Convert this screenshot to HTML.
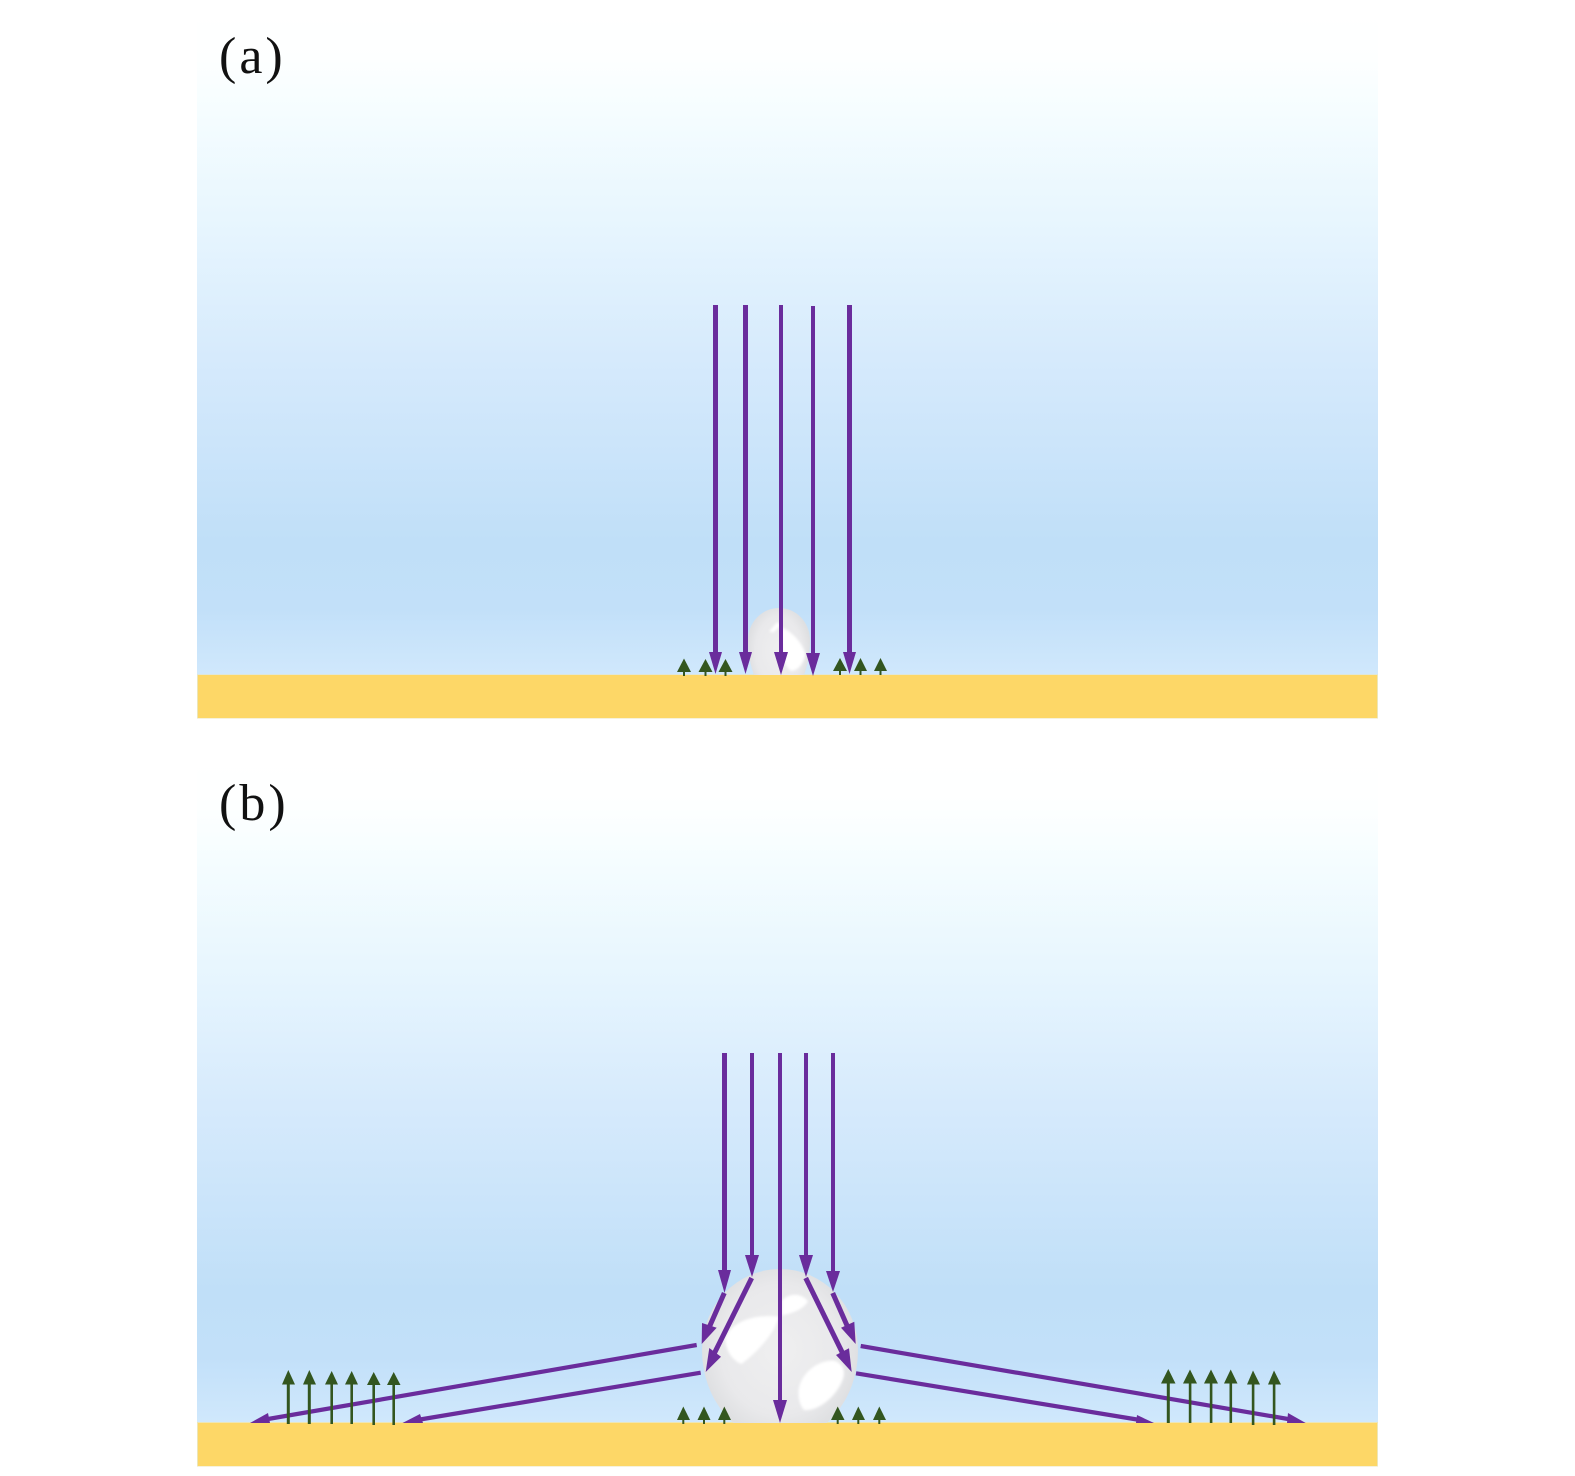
<!DOCTYPE html>
<html><head><meta charset="utf-8"><style>html,body{margin:0;padding:0;background:#fff}svg{display:block}</style></head><body>
<svg width="1575" height="1476" viewBox="0 0 1575 1476" xmlns="http://www.w3.org/2000/svg">
<defs>
<linearGradient id="sky" x1="0" y1="0" x2="0" y2="1">
<stop offset="0" stop-color="#ffffff"/><stop offset="0.07" stop-color="#fdffff"/><stop offset="0.15" stop-color="#f5fdff"/><stop offset="0.33" stop-color="#e6f5fe"/><stop offset="0.52" stop-color="#d6eafc"/><stop offset="0.8" stop-color="#c0dff8"/><stop offset="0.9" stop-color="#c2e0f9"/><stop offset="1" stop-color="#d0e8fc"/>
</linearGradient>
<radialGradient id="ball" cx="0.5" cy="0.47" r="0.54">
<stop offset="0" stop-color="#efeff0"/><stop offset="0.7" stop-color="#e9e9eb"/><stop offset="0.93" stop-color="#dfe0e2"/><stop offset="1" stop-color="#dcdfe3"/>
</radialGradient>
<filter id="soft" x="-30%" y="-30%" width="160%" height="160%"><feGaussianBlur stdDeviation="4"/></filter>
<clipPath id="ca"><rect x="197" y="500" width="1181" height="175"/></clipPath>
<clipPath id="cb"><rect x="197" y="1200" width="1181" height="223"/></clipPath>
</defs>
<rect x="197" y="14" width="1181" height="661" fill="url(#sky)"/>
<rect x="197" y="762" width="1181" height="661" fill="url(#sky)"/>
<rect x="197" y="674.5" width="1181" height="44" fill="#ece6b8"/>
<rect x="198" y="675" width="1179" height="43" fill="#fdd767"/>
<rect x="197" y="1422" width="1181" height="44.5" fill="#ece6b8"/>
<rect x="198" y="1423" width="1179" height="43" fill="#fdd767"/>

<g clip-path="url(#ca)">
<path d="M748 640 A31 32 0 0 1 810 640 A31 59 0 0 1 748 640Z" fill="url(#ball)"/>
<g transform="translate(660,590) scale(0.3333)" fill="#fff" filter="url(#soft)">
<path d="M365 112 C390 122 422 150 436 190 C432 220 412 245 392 242 C372 228 364 195 365 112Z"/>
<path d="M328 124 L352 96 L362 106 L340 128Z"/>
</g>
</g>
<g clip-path="url(#cb)">
<path d="M702 1350 A78 81 0 0 1 858 1350 A78 91 0 0 1 702 1350Z" fill="url(#ball)"/>
<g transform="translate(670,1240) scale(0.3333)" fill="#fff" filter="url(#soft)">
<path d="M166 295 C183 246 250 222 326 230 C318 272 272 328 215 372 C188 362 166 332 166 295Z"/>
<path d="M336 182 C355 160 392 156 414 184 C398 210 365 220 336 226Z"/>
<path d="M386 450 C392 402 440 360 492 362 C524 372 528 402 514 428 C494 474 442 514 403 510 C390 498 384 475 386 450Z"/>
</g>
</g>

<g fill="#6a2c9c" stroke="none">
<rect x="713" y="305" width="5" height="348"/><path d="M709 652 H722 L715.5 674Z"/>
<rect x="743" y="305" width="5" height="348"/><path d="M739 652 H752 L745.5 674Z"/>
<rect x="779" y="305" width="4" height="349"/><path d="M774 652 H788 L781 675Z"/>
<rect x="811" y="306" width="4" height="349"/><path d="M806 653 H820 L813 676Z"/>
<rect x="847" y="305" width="5" height="348"/><path d="M843 652 H856 L849.5 674Z"/>
<rect x="722" y="1053" width="5" height="218"/><path d="M718 1270 H731 L724.5 1293Z"/>
<rect x="750" y="1053" width="4" height="203"/><path d="M745 1255 H759 L752 1277Z"/>
<rect x="778" y="1053" width="4" height="348"/><path d="M773 1400 H787 L780 1423Z"/>
<rect x="804" y="1053" width="4" height="203"/><path d="M799 1255 H813 L806 1277Z"/>
<rect x="831" y="1053" width="4" height="218"/><path d="M826 1271 H840 L833 1292Z"/>
</g>
<g stroke="#6a2c9c" fill="none">
<path d="M724.3 1293 L708 1330" stroke-width="5"/>
<path d="M751.7 1278 L713 1356" stroke-width="5"/>
<path d="M805.7 1278 L844 1356" stroke-width="5"/>
<path d="M832.7 1293 L849 1330" stroke-width="5"/>
<path d="M696.7 1345 L268 1419" stroke-width="4.2"/>
<path d="M700.7 1372.7 L420 1419.5" stroke-width="4.2"/>
<path d="M860.7 1346 L1288 1419" stroke-width="4.2"/>
<path d="M856 1373.3 L1137 1419.5" stroke-width="4.2"/>
</g>
<g fill="#6a2c9c">
<path d="M701.7 1344 L702 1323 L716.7 1327.7Z"/>
<path d="M705.7 1372 L709.3 1348 L721 1356.7Z"/>
<path d="M851.7 1372 L836 1355 L849 1348.3Z"/>
<path d="M855.7 1344 L841 1327.7 L854.3 1321.7Z"/>
<path d="M250 1423 L268 1413 L270 1423Z"/>
<path d="M402.5 1423 L420 1414 L423 1423Z"/>
<path d="M1305.7 1423 L1288 1413 L1287 1423Z"/>
<path d="M1154 1423 L1137 1415 L1136 1423Z"/>
</g>

<g fill="#33561f">
<path d="M684 658.5 L691 672 H677Z"/><rect x="683" y="671" width="2" height="5"/>
<path d="M705.5 659 L712.5 672 H698.5Z"/><rect x="704.5" y="671" width="2" height="5"/>
<path d="M725.5 659 L732.5 672 H718.5Z"/><rect x="724.5" y="671" width="2" height="5"/>
<path d="M840 658 L847 671 H833Z"/><rect x="839" y="670" width="2" height="5"/>
<path d="M860.5 658 L867 671 H854Z"/><rect x="859.5" y="670" width="2" height="5"/>
<path d="M880.5 658 L887 671 H874Z"/><rect x="879.5" y="670" width="2" height="5"/>
<path d="M683.3 1406.5 L690 1420 H677Z"/><rect x="682.3" y="1419" width="2" height="5"/>
<path d="M704 1406.5 L710.5 1420 H697.5Z"/><rect x="703" y="1419" width="2" height="5"/>
<path d="M724.3 1406.5 L731 1420 H718Z"/><rect x="723.3" y="1419" width="2" height="5"/>
<path d="M837.7 1406.5 L844.5 1420 H831Z"/><rect x="836.7" y="1419" width="2" height="5"/>
<path d="M858.3 1406.5 L865 1420 H852Z"/><rect x="857.3" y="1419" width="2" height="5"/>
<path d="M879.3 1406.5 L886 1420 H873Z"/><rect x="878.3" y="1419" width="2" height="5"/>
<path d="M288.3 1370 L295 1384.5 H282Z"/><rect x="286.8" y="1384" width="3" height="40"/>
<path d="M309.3 1370 L316 1384.5 H303Z"/><rect x="307.8" y="1384" width="3" height="40"/>
<path d="M331.7 1371 L338 1384.5 H325Z"/><rect x="330.4" y="1384" width="2.6" height="40"/>
<path d="M351.7 1371 L358 1384.5 H345Z"/><rect x="350.4" y="1384" width="2.6" height="40"/>
<path d="M373.7 1372 L380.5 1385 H367Z"/><rect x="372.4" y="1385" width="2.6" height="40"/>
<path d="M393.7 1372 L400.5 1385 H387Z"/><rect x="392.4" y="1385" width="2.6" height="40"/>
<path d="M1168.3 1369 L1175.5 1383.5 H1161Z"/><rect x="1166.8" y="1383" width="3" height="40"/>
<path d="M1190 1369.5 L1197 1383.5 H1183Z"/><rect x="1188.8" y="1383" width="2.6" height="40"/>
<path d="M1211 1369.5 L1218 1383.5 H1204Z"/><rect x="1209.8" y="1383" width="2.6" height="40"/>
<path d="M1230.7 1369.5 L1237.5 1383.5 H1224Z"/><rect x="1229.5" y="1383" width="2.6" height="40"/>
<path d="M1253 1370.5 L1260 1384.5 H1247Z"/><rect x="1251.8" y="1384" width="2.6" height="41"/>
<path d="M1274 1370.5 L1281 1384.5 H1268Z"/><rect x="1272.8" y="1384" width="2.6" height="41"/>
</g>

<text x="219" y="73" font-family="'Liberation Serif',serif" font-size="52" letter-spacing="3" fill="#111">(a)</text>
<text x="219" y="820" font-family="'Liberation Serif',serif" font-size="52" letter-spacing="3" fill="#111">(b)</text>
</svg>
</body></html>
